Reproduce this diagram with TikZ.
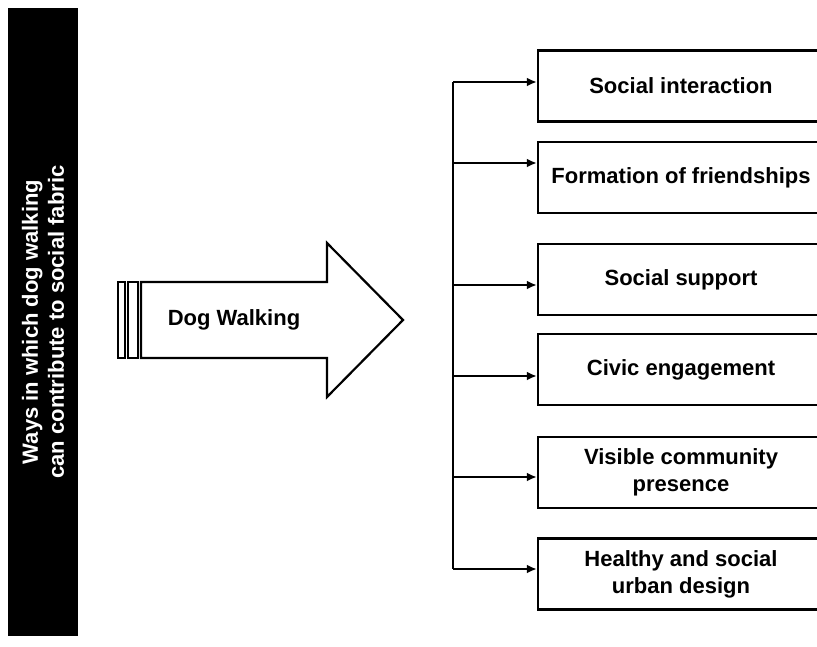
\documentclass[tikz,border=0pt]{standalone}
\usepackage{fontspec}
\setmainfont{Liberation Sans}
\usetikzlibrary{arrows.meta}

\begin{document}
\begin{tikzpicture}[x = 1pt, y = -1pt,
  box/.style = {draw, line width = 2.4pt, minimum width = 286pt, minimum height = 71pt, align = center, inner sep = 0pt, font = \bfseries\fontsize{22}{27}\selectfont},
  link/.style = {line width = 2.2pt, -{Latex[length = 10pt, width = 9pt]}}]
\clip (0,0) rectangle (817,646);
\fill[white] (0,0) rectangle (817,646);

%side bar
\node[fill = black, text = white, rotate = 90, minimum width = 628pt, minimum height = 70pt, align = center, font = \bfseries\fontsize{22}{26}\selectfont] (side) at (43,322) {Ways in which dog walking\\can contribute to social fabric};

%big arrow
\draw[line width = 2pt] (118,282) rectangle (125,358);
\draw[line width = 2pt] (128,282) rectangle (138,358);
\draw[line width = 2.2pt, line join = miter] (141,282) -- (327,282) -- (327,243) -- (403,320) -- (327,397) -- (327,358) -- (141,358) -- cycle;
\node[font = \bfseries\fontsize{22}{27}\selectfont] (dog) at (234,320) {Dog Walking};

%boxes
\foreach \n/\y/\a/\t in {1/86/82/{Social interaction}, 2/177.5/163/{Formation of friendships}, 3/279.5/285/{Social support}, 4/369.5/376/{Civic engagement}, 5/472.5/477/{Visible community\\presence}, 6/574/569/{Healthy and social\\urban design}}
{
  \node[box] (b\n) at (681,\y) {\t};
  \coordinate (t\n) at (453,\a);
  \draw[link] (t\n) -- (b\n.west |- t\n);
}
\draw[line width = 2.2pt] (t1) -- (t6);
\end{tikzpicture}
\end{document}
